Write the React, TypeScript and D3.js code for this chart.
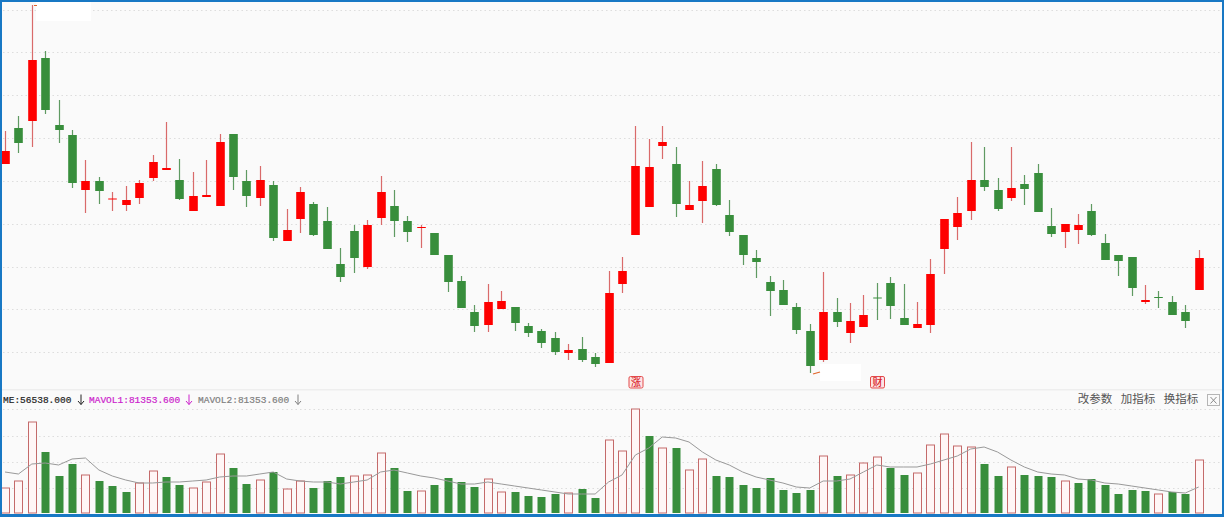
import React from "react";
import * as d3 from "d3";

const WIDTH = 1224;
const HEIGHT = 517;

// Candle values, price index units
const bodyHigh = [249,272,340,342,275,265,219,219,201.5,200,217,238,232,220,204,205,258,266,219,220,215,170,208,196,179,136,169,175,208,194,179,173,167,145,119,88,98,99,93,74,69,62,50,51,43,107,129,234,233,258,236,195,214,231,185,165,142,118,110,93,69,88,88,79,85,102.5,117,82,76,126,181,187,220,220,210,212,216,227,174,176,175,189,157,145,143,100,103,98,88,142];
const bodyLow = [236,257,279,290,270,217,210,209,200.5,195,202,222,230,201,189,203,194,223,204,202,162,159,181,165,151,123,142,133,182,179,168,172.5,145,118,92,74,75,91,77,67,57,48,47,40,36,37,116,165,193,254,196,190,199,195,168,145,138,109,95,70,34,40,78,67,73,102,94,75,72,75,151,173,189,213,191,202,211,188,166,168,170,165,140,139,112,98,102,85,79,110];
const highs = [269,284,395,349,300,270,240,223,208,214,220,245,278,241,228,240,266,266,230,234,219,191,213,198,193,152,175,180,224,210,184,175,167,145,124,95,116,109,93,77,71,68,56,63,47,129,143,274,261,274,253,219,239,236,200,165,150,124,120,97,76,128,102,97,105,117,123,116,98,141,181,203,258,253,222,253,225,236,192,176,186,196,166,145,143,115,109,104,95,150];
const lows = [236,247,253,286,257,212,187,196,189,189,196,219,230,200,189,203,194,210,193,194,159,159,167,164,151,118,127,131,175,163,158,152,145,108,92,68,68,91,69,63,52,45,40,38,33,37,107,165,193,241,183,190,177,194,164,135,122,84,95,66,27,38,73,57,73,80,81,75,72,67,126,160,180,209,189,199,195,188,163,152,156,164,140,124,104,96,92,85,72,110];
// Positions of the rising (red) candles and volume bars
const risingCandles = [0,2,6,8,9,10,11,12,14,15,16,19,21,22,27,28,31,36,37,42,45,46,47,48,49,51,52,61,63,64,68,69,70,71,72,75,79,80,85,89];
const risingVolumes = [0,1,2,6,10,11,14,15,16,19,21,22,26,27,28,31,36,37,42,45,46,47,49,51,52,61,63,64,65,68,69,70,71,72,75,79,86,89];

// Volume panel
const volumes = [25,32,91,61,37,49,38,32,27,21,30,42,36,28,25,31,59,45,29,33,41,24,32,25,32,36,37,38,60,45,22,22,28,35,31,26,34,21,21,17,16,19,20,24,15,73,62,104,77,65,65,43,54,37,36,28,25,35,23,20,23,57,37,38,50,56,45,38,40,68,79,67,66,49,37,46,38,37,36,32,30,34,28,19,23,22,19,21,19,53];
const volumeAvg = [41,39,49,50,48,54,55,43,37,33,30,30,31,31,32,33,36,37,37,39,41,34,32,31,31,29,31,33,41,43,40,37,35,32,29,29,31,29,27,25,23,21,19,19,19,31,38,58,65,76,75,71,61,53,48,41,36,33,30,26,25,32,32,34,41,48,46,46,46,49,53,57,64,66,61,53,46,41,39,38,34,33,30,29,27,25,23,21,20,26];

const priceGrid = [390,348,305,262,219,176,133,91,48];
const volumeGrid = [104,77.5,51,25];
const actionLabels = ["改参数","加指标","换指标"];
const actionX = [1095,1138,1181];
const legendParts = ["ME:56538.000","MAVOL1:81353.600","MAVOL2:81353.600"];
const legendColors = ["#222222","#cc22cc","#808080"];
const legendX = [3,89,198];
const arrowX = [81,189,298];

const RED = "#fe0000";
const GREEN = "#388e3c";
const WICK_RED = "#d96a6a";
const WICK_GREEN = "#5f9a62";
const VOL_STROKE = "#c46a6a";
const VOL_FILL = "#fff6f6";
const CJK = "'Noto Sans CJK SC', sans-serif";

const x = d3.scaleLinear().domain([0, 89]).range([5, 1198.7]);
const yPrice = d3.scaleLinear().domain([0, 400]).range([400, 0]);
const yVol = d3.scaleLinear().domain([0, 105]).range([513, 408]);
const avgLine = d3.line<number>().x((_, i) => x(i)).y((d) => yVol(d));

const BODY_W = 8.6;
const VOL_W = 8;

function Tag({ cx, label }: { cx: number; label: string }) {
  return (
    <g>
      <rect x={cx - 7} y={376.5} width={14} height={11.5} rx={1.5} fill="#fde4e4" stroke="#e34a4a" strokeWidth={1} />
      <text x={cx} y={386} fontSize={10} fontFamily={CJK} fontWeight={500} fill="#d9262c" textAnchor="middle">{label}</text>
    </g>
  );
}

function Arrow({ ax, color }: { ax: number; color: string }) {
  return (
    <path d={`M${ax},394.5V404.5M${ax - 3},401L${ax},404.5L${ax + 3},401`} fill="none" stroke={color} strokeWidth={1} />
  );
}

export default function App() {
  return (
    <>
      <style>{`html,body{margin:0;padding:0;overflow:hidden;background:#fafafa}`}</style>
      <svg width={WIDTH} height={HEIGHT} viewBox={`0 0 ${WIDTH} ${HEIGHT}`} style={{ display: "block" }}>
        <rect width={WIDTH} height={HEIGHT} fill="#fafafa" />

        {priceGrid.map((v) => (
          <line key={v} x1={3} x2={1221} y1={Math.round(yPrice(v)) + 0.5} y2={Math.round(yPrice(v)) + 0.5} stroke="#dddddd" strokeDasharray="1.5 3" />
        ))}
        {volumeGrid.map((v) => (
          <line key={v} x1={3} x2={1221} y1={Math.round(yVol(v)) + 0.5} y2={Math.round(yVol(v)) + 0.5} stroke="#dddddd" strokeDasharray="1.5 3" />
        ))}

        <rect x={36} y={2} width={55} height={19} fill="#ffffff" />
        <rect x={820} y={364} width={41} height={17} fill="#ffffff" />

        {highs.map((h, i) => {
          const up = risingCandles.includes(i);
          const top = yPrice(bodyHigh[i]);
          const bottom = yPrice(bodyLow[i]);
          const cx = Math.round(x(i)) + 0.5;
          return (
            <g key={i}>
              <line x1={cx} x2={cx} y1={yPrice(h)} y2={yPrice(lows[i])} stroke={up ? WICK_RED : WICK_GREEN} strokeWidth={1.2} />
              <rect x={cx - BODY_W / 2} y={top} width={BODY_W} height={Math.max(bottom - top, 1)} fill={up ? RED : GREEN} />
            </g>
          );
        })}

        <path d="M34,5.5h3" stroke="#e0662a" strokeWidth={1} />
        <path d="M813,374L820,372" stroke="#e0662a" strokeWidth={1.2} />
        <Tag cx={636} label="涨" />
        <Tag cx={877.5} label="财" />

        <rect x={2} y={389} width={1220} height={1.5} fill="#eeeeee" />

        {legendParts.map((t, i) => (
          <g key={t}>
            <text x={legendX[i]} y={402.5} fontSize={9.5} fontFamily="'Liberation Mono', monospace" fill={legendColors[i]} stroke={legendColors[i]} strokeWidth={0.2}>{t}</text>
            <Arrow ax={arrowX[i]} color={legendColors[i]} />
          </g>
        ))}

        {actionLabels.map((t, i) => (
          <text key={t} x={actionX[i]} y={403} fontSize={11.5} fontFamily={CJK} fill="#555555" textAnchor="middle">{t}</text>
        ))}
        <rect x={1207.5} y={394.5} width={12} height={11} fill="#fafafa" stroke="#b5b5b5" />
        <path d="M1210.5,397L1216.5,403.5M1216.5,397L1210.5,403.5" stroke="#8a8a8a" fill="none" />

        {volumes.map((v, i) => {
          const up = risingVolumes.includes(i);
          const cx = Math.round(x(i)) + 0.5;
          return (
            <rect
              key={i}
              x={cx - VOL_W / 2}
              y={yVol(v)}
              width={VOL_W}
              height={yVol(0) - yVol(v)}
              fill={up ? VOL_FILL : GREEN}
              stroke={up ? VOL_STROKE : "none"}
              strokeWidth={1}
            />
          );
        })}

        <path d={avgLine(volumeAvg) ?? ""} fill="none" stroke="#999999" strokeWidth={1} />

        <rect x={1} y={1} width={WIDTH - 2} height={HEIGHT - 3} fill="none" stroke="#1878c4" strokeWidth={2} />
        <rect x={0} y={515} width={WIDTH} height={2} fill="#1878c4" />
      </svg>
    </>
  );
}
